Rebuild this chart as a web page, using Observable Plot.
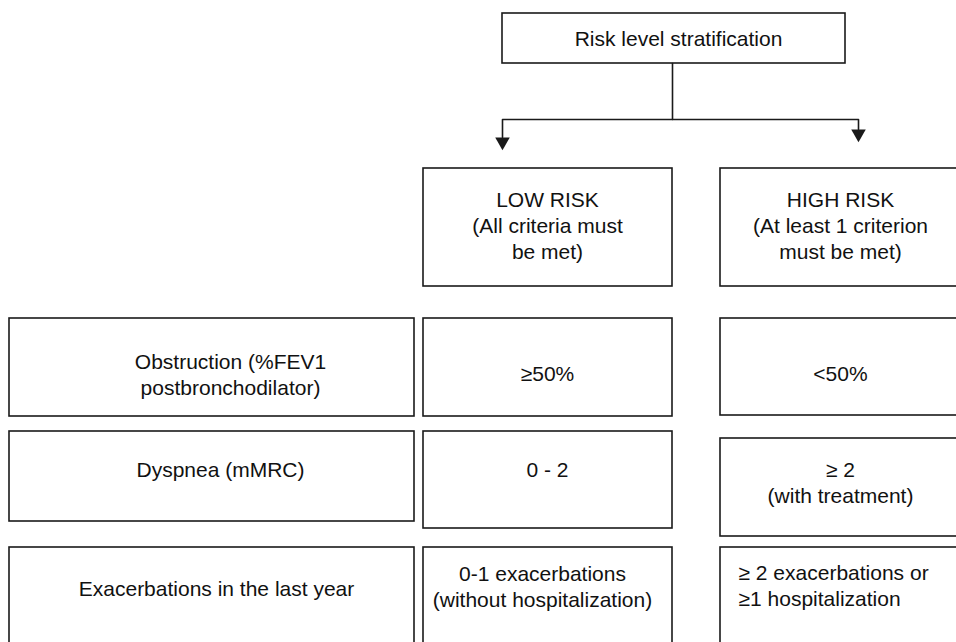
<!DOCTYPE html>
<html>
<head>
<meta charset="utf-8">
<script src="https://cdn.jsdelivr.net/npm/d3@7"></script>
<script src="https://cdn.jsdelivr.net/npm/@observablehq/plot@0.6"></script>
<style>
  html, body { margin: 0; padding: 0; background: #fff; }
  #chart svg { display: block; }
</style>
</head>
<body>
<div id="chart"></div>
<script>
// ---- Data (text content) ----
const title = "Risk level stratification";
const riskLevels = [
  "LOW RISK\n(All criteria must\nbe met)",
  "HIGH RISK\n(At least 1 criterion\nmust be met)"
];
const criteria = [
  "Obstruction (%FEV1\npostbronchodilator)",
  "Dyspnea (mMRC)",
  "Exacerbations in the last year"
];
const lowRisk = ["≥50%", "0 - 2", "0-1 exacerbations\n(without hospitalization)"];
const highRisk = ["<50%", "≥ 2\n(with treatment)", "≥ 2 exacerbations or\n≥1 hospitalization"];

// ---- Layout (diagram geometry, in pixel units of a 956×642 canvas) ----
const W = 956, H = 642;
const colEdges = {crit: [9, 414], low: [423, 672], high: [720, 962]};
const titleBox = {x1: 502, x2: 845, y1: 13, y2: 63, tx: 678, ty: 37};
const headerRows = {y1: 168, y2: 286, ty: 224};
const rowEdges = {
  crit: [[318, 416], [431, 521], [547, 660]],
  low:  [[318, 416], [431, 528], [547, 660]],
  high: [[318, 415], [438, 536], [547, 660]]
};
const textPos = {
  crit: [[230, 373], [220, 468], [216, 587]],
  low:  [[547, 372], [547, 468], [542, 585.5]],
  high: [[840, 372], [840, 481.5], [738, 584.5]]
};
const textAnchorFor = {high: ["middle", "middle", "start"]};
const headerTextX = {low: 547, high: 840};

// Build box + label tables
const boxes = [{...titleBox}];
const labels = [{text: title, x: titleBox.tx, y: titleBox.ty, anchor: "middle"}];
["low", "high"].forEach((c, i) => {
  boxes.push({x1: colEdges[c][0], x2: colEdges[c][1], y1: headerRows.y1, y2: headerRows.y2});
  labels.push({text: riskLevels[i], x: headerTextX[c], y: headerRows.ty, anchor: "middle"});
});
const colTexts = {crit: criteria, low: lowRisk, high: highRisk};
["crit", "low", "high"].forEach(c => {
  colTexts[c].forEach((t, r) => {
    boxes.push({x1: colEdges[c][0], x2: colEdges[c][1], y1: rowEdges[c][r][0], y2: rowEdges[c][r][1]});
    labels.push({
      text: t, x: textPos[c][r][0], y: textPos[c][r][1],
      anchor: (textAnchorFor[c] || [])[r] || "middle"
    });
  });
});

// Connectors
const trunkX = 672, busY = 119;
const arrowCols = [{x: 502, base: 137}, {x: 858, base: 129}];
const connectors = [
  {id: "trunk", x: trunkX, y: titleBox.y2},
  {id: "trunk", x: trunkX, y: busY},
  {id: "bus", x: arrowCols[0].x, y: arrowCols[0].base},
  {id: "bus", x: arrowCols[0].x, y: busY},
  {id: "bus", x: arrowCols[1].x, y: busY},
  {id: "bus", x: arrowCols[1].x, y: arrowCols[1].base}
];
const heads = arrowCols.map(a => ({x: a.x, y: a.base + 4.3}));

const ink = "#1a1a1a";
const font = "'Liberation Sans', Arial, Helvetica, sans-serif";

const chart = Plot.plot({
  width: W,
  height: H,
  margin: 0,
  x: {domain: [0, W], range: [0, W], axis: null},
  y: {domain: [0, H], range: [0, H], axis: null},
  style: {fontFamily: font, background: "#fff"},
  marks: [
    Plot.rect(boxes, {x1: "x1", x2: "x2", y1: "y1", y2: "y2", fill: "#fff", stroke: ink, strokeWidth: 1.6}),
    Plot.line(connectors, {x: "x", y: "y", z: "id", stroke: ink, strokeWidth: 1.6}),
    Plot.dot(heads, {x: "x", y: "y", symbol: "triangle", r: 5.4, rotate: 180, fill: ink, stroke: "none"}),
    Plot.text(labels.filter(d => d.anchor === "middle"), {
      x: "x", y: "y", text: "text", fontSize: 21, lineHeight: 1.24,
      textAnchor: "middle", fill: "#111", fontFamily: font
    }),
    Plot.text(labels.filter(d => d.anchor === "start"), {
      x: "x", y: "y", text: "text", fontSize: 21, lineHeight: 1.24,
      textAnchor: "start", fill: "#111", fontFamily: font
    })
  ]
});
document.getElementById("chart").appendChild(chart);
</script>
</body>
</html>
